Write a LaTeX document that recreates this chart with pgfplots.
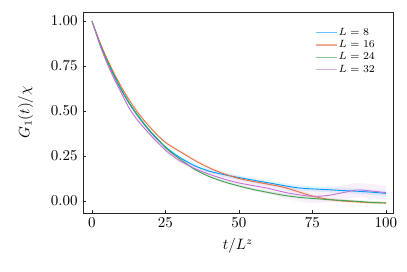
\documentclass[border=0pt]{standalone}
\usepackage{pgfplots}
\pgfplotsset{compat=1.18}
\usepackage{pgfplotstable}
\usepgfplotslibrary{fillbetween}
\definecolor{jblue}{RGB}{0,154,250}
\definecolor{jorange}{RGB}{227,111,71}
\definecolor{jgreen}{RGB}{62,164,78}
\definecolor{jpurple}{RGB}{195,113,210}
\pgfplotstableread{
t G e
0 1 0.002
2.5 0.885 0.003
5 0.783 0.004
7.5 0.695 0.004
10 0.615 0.005
12.5 0.545 0.005
15 0.485 0.006
17.5 0.43 0.006
20 0.381 0.007
22.5 0.338 0.007
25 0.300 0.008
27.5 0.268 0.008
30 0.240 0.009
35 0.195 0.010
40 0.165 0.011
45 0.146 0.012
50 0.130 0.012
55 0.115 0.013
60 0.101 0.013
65 0.086 0.014
70 0.073 0.014
75 0.067 0.014
80 0.063 0.014
85 0.058 0.014
90 0.054 0.014
95 0.049 0.014
100 0.042 0.014
}\tblA
\pgfplotstableread{
t G e
0 1 0.002
2.5 0.89 0.003
5 0.795 0.004
7.5 0.71 0.005
10 0.633 0.005
12.5 0.565 0.006
15 0.505 0.006
17.5 0.452 0.007
20 0.405 0.008
22.5 0.362 0.008
25 0.325 0.009
27.5 0.298 0.009
30 0.274 0.010
35 0.225 0.010
40 0.183 0.010
45 0.15 0.010
50 0.125 0.010
55 0.108 0.010
60 0.093 0.010
65 0.077 0.010
70 0.052 0.010
75 0.027 0.009
80 0.01 0.009
85 0.0 0.008
90 -0.005 0.008
95 -0.009 0.008
100 -0.01 0.008
}\tblB
\pgfplotstableread{
t G e
0 1 0.002
2.5 0.885 0.003
5 0.785 0.004
7.5 0.70 0.004
10 0.62 0.005
12.5 0.55 0.005
15 0.49 0.006
17.5 0.435 0.006
20 0.385 0.007
22.5 0.342 0.007
25 0.296 0.007
27.5 0.262 0.008
30 0.232 0.008
35 0.175 0.008
40 0.135 0.008
45 0.106 0.008
50 0.083 0.008
55 0.063 0.008
60 0.047 0.008
65 0.032 0.008
70 0.021 0.008
75 0.014 0.008
80 0.008 0.008
85 0.003 0.008
90 -0.002 0.008
95 -0.008 0.008
100 -0.012 0.008
}\tblC
\pgfplotstableread{
t G e
0 1 0.002
2.5 0.875 0.004
5 0.77 0.005
7.5 0.68 0.006
10 0.6 0.007
12.5 0.52 0.008
15 0.46 0.009
17.5 0.41 0.010
20 0.365 0.010
22.5 0.323 0.011
25 0.282 0.011
27.5 0.25 0.012
30 0.222 0.012
35 0.18 0.014
40 0.148 0.015
45 0.121 0.018
50 0.100 0.022
55 0.085 0.026
60 0.07 0.030
65 0.05 0.034
70 0.035 0.037
75 0.026 0.038
80 0.03 0.039
85 0.045 0.040
90 0.061 0.040
95 0.055 0.039
100 0.046 0.038
}\tblD
\begin{document}
\begin{tikzpicture}
\begin{axis}[
  scale only axis, width=206.7pt, height=134pt,
  at={(0,0)}, anchor=south west,
  xmin=-3.06, xmax=102.4, ymin=-0.067, ymax=1.05,
  xtick={0,25,50,75,100},
  ytick={0,0.25,0.5,0.75,1},
  yticklabel style={/pgf/number format/.cd, fixed, fixed zerofill, precision=2},
  tick align=inside, major tick length=2pt,
  xtick pos=left, ytick pos=left,
  axis line style={line width=0.6pt, black!85},
  tick style={line width=0.5pt, black!85},
  xlabel={$t/L^z$}, ylabel={$G_1(t)/\chi$},
  ylabel style={xshift=0pt, yshift=5pt},
  legend style={draw=none, fill=none, font=\fontsize{7.5}{7.5}\selectfont,
    at={(rel axis cs:0.962,0.945)}, anchor=north east, row sep=0pt,
    nodes={inner sep=1pt}},
  legend cell align=left,
  legend image code/.code={\draw[#1, opacity=0.6, line width=0.7pt] (0pt,0pt) -- (14pt,0pt);},
  every axis plot/.append style={line width=0.6pt},
]
% bands
\addplot[draw=none, name path=au, forget plot] table[x=t, y expr=\thisrow{G}+\thisrow{e}] {\tblA};
\addplot[draw=none, name path=al, forget plot] table[x=t, y expr=\thisrow{G}-\thisrow{e}] {\tblA};
\addplot[fill=jblue, fill opacity=0.12, draw=none, forget plot] fill between[of=au and al];
\addplot[draw=none, name path=bu, forget plot] table[x=t, y expr=\thisrow{G}+\thisrow{e}] {\tblB};
\addplot[draw=none, name path=bl, forget plot] table[x=t, y expr=\thisrow{G}-\thisrow{e}] {\tblB};
\addplot[fill=jorange, fill opacity=0.10, draw=none, forget plot] fill between[of=bu and bl];
\addplot[draw=none, name path=cu, forget plot] table[x=t, y expr=\thisrow{G}+\thisrow{e}] {\tblC};
\addplot[draw=none, name path=cl, forget plot] table[x=t, y expr=\thisrow{G}-\thisrow{e}] {\tblC};
\addplot[fill=jgreen, fill opacity=0.10, draw=none, forget plot] fill between[of=cu and cl];
\addplot[draw=none, name path=du, forget plot] table[x=t, y expr=\thisrow{G}+\thisrow{e}] {\tblD};
\addplot[draw=none, name path=dl, forget plot] table[x=t, y expr=\thisrow{G}-\thisrow{e}] {\tblD};
\addplot[fill=jpurple, fill opacity=0.10, draw=none, forget plot] fill between[of=du and dl];
% lines
\addplot[jblue, smooth] table[x=t, y=G] {\tblA};
\addlegendentry{$L = 8$}
\addplot[jorange, smooth] table[x=t, y=G] {\tblB};
\addlegendentry{$L = 16$}
\addplot[jgreen, smooth] table[x=t, y=G] {\tblC};
\addlegendentry{$L = 24$}
\addplot[jpurple, smooth] table[x=t, y=G] {\tblD};
\addlegendentry{$L = 32$}
\end{axis}
\path (-55.3pt,-38.7pt) rectangle (216pt,142pt);
\end{tikzpicture}
\end{document}
